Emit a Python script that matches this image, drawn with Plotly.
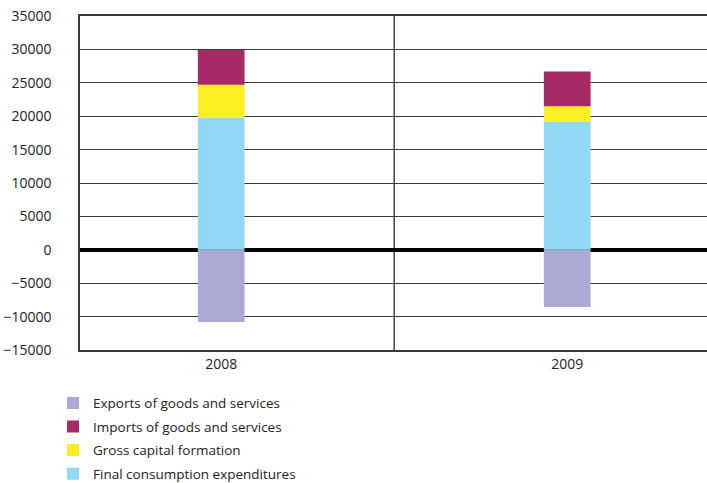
import plotly.graph_objects as go

categories = ["2008", "2009"]
exports = [-10800, -8550]
final_consumption = [19800, 19200]
gross_capital = [4900, 2300]
imports = [5200, 5200]

colors = {
    "Exports of goods and services": "#aaaad4",
    "Imports of goods and services": "#a52a66",
    "Gross capital formation": "#fcee21",
    "Final consumption expenditures": "#91d8f7",
}

xpos = list(range(len(categories)))
fig = go.Figure()
series = [
    ("Exports of goods and services", exports, 1),
    ("Final consumption expenditures", final_consumption, 4),
    ("Gross capital formation", gross_capital, 3),
    ("Imports of goods and services", imports, 2),
]
for name, vals, rank in series:
    fig.add_trace(go.Bar(
        x=xpos, y=vals, name=name, width=0.135,
        marker=dict(color=colors[name], line=dict(width=0)),
        legendrank=rank, legendgroup=name,
    ))

fig.add_shape(type="line", xref="x", yref="paper", x0=0.5, x1=0.5, y0=0, y1=1,
              line=dict(color="#444444", width=1.5), layer="below")

fig.update_layout(
    barmode="relative",
    width=707, height=483,
    margin=dict(l=80, r=0, t=16, b=133, autoexpand=False),
    paper_bgcolor="white", plot_bgcolor="white",
    font=dict(family="Open Sans", size=14, color="#222222"),
    showlegend=True,
    legend=dict(orientation="v", x=-0.043, xanchor="left", y=-0.113, yanchor="top",
                font=dict(size=13.5), tracegroupgap=3, itemwidth=30),
    xaxis=dict(range=[-0.408, 1.404], tickvals=xpos, ticktext=categories,
               showgrid=False, zeroline=False, showline=True, mirror=True,
               linecolor="#3a3a3a", linewidth=1.5, ticks="", automargin=False),
    yaxis=dict(range=[-15000, 35000], dtick=5000, tick0=0,
               showgrid=True, gridcolor="#3a3a3a", gridwidth=1,
               zeroline=True, zerolinecolor="black", zerolinewidth=4,
               showline=True, linecolor="#3a3a3a", linewidth=1.5,
               ticks="", ticklabelstandoff=24, tickformat="d", automargin=False),
)

fig.write_html("out.html", config={"displayModeBar": False},
               post_script="document.body.style.margin='0';")
